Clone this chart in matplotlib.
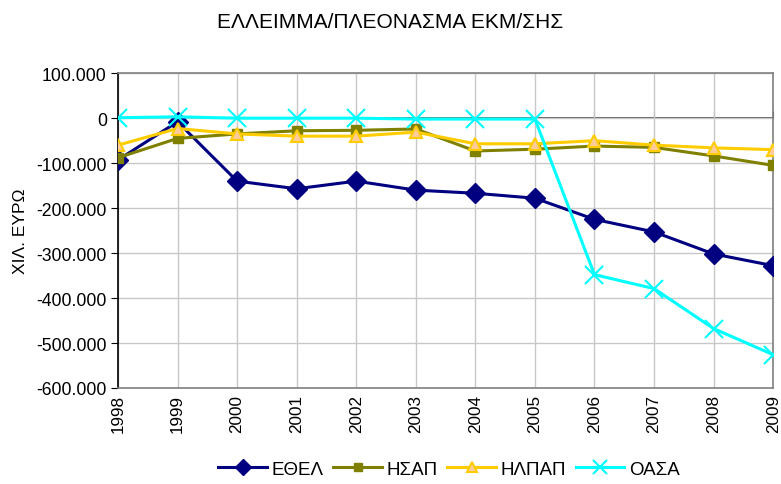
import matplotlib
matplotlib.use("Agg")
import matplotlib.pyplot as plt

years = [1998, 1999, 2000, 2001, 2002, 2003, 2004, 2005, 2006, 2007, 2008, 2009]
ethel = [-93000, -8000, -140000, -157000, -140000, -160000, -167000, -178000, -225000, -253000, -302000, -328000]
hsap = [-88000, -45000, -35000, -28000, -27000, -24000, -73000, -69000, -62000, -65000, -84000, -105000]
hlpap = [-60000, -23000, -35000, -40000, -40000, -31000, -57000, -57000, -50000, -60000, -66000, -70000]
oasa = [1000, 3000, 0, 0, 0, -2000, -2000, -2000, -348000, -379000, -468000, -526000]
series_names = ["ΕΘΕΛ", "ΗΣΑΠ", "ΗΛΠΑΠ", "ΟΑΣΑ"]
title = "ΕΛΛΕΙΜΜΑ/ΠΛΕΟΝΑΣΜΑ ΕΚΜ/ΣΗΣ"
ylabel = "ΧΙΛ. ΕΥΡΩ"
yticks = [100000, 0, -100000, -200000, -300000, -400000, -500000, -600000]
ytick_labels = ["100.000", "0", "-100.000", "-200.000", "-300.000", "-400.000", "-500.000", "-600.000"]

plt.rcParams['font.family'] = ['Liberation Sans', 'DejaVu Sans']

fig = plt.figure(figsize=(7.81, 4.85), dpi=100)
ax = fig.add_axes([0.151, 0.198, 0.839, 0.649])

lw = 2.2
ax.plot(years, ethel, color='#000080', lw=lw, marker='D', ms=10, mfc='#000080', mec='#000080', label=series_names[0], zorder=3)
ax.plot(years, hsap, color='#808000', lw=lw, marker='s', ms=7.5, mfc='#808000', mec='#808000', label=series_names[1], zorder=3)
ax.plot(years, hlpap, color='#FFCC00', lw=lw, marker='^', ms=9, mfc='#FFCC99', mec='#FFCC00', mew=1.5, label=series_names[2], zorder=3)
ax.plot(years, oasa, color='#00FFFF', lw=lw, marker='x', ms=13, mew=1.5, mec='#00FFFF', label=series_names[3], zorder=4)

ax.set_xlim(1998, 2009)
ax.set_ylim(-600000, 100000)
ax.set_yticks(yticks)
ax.set_yticklabels(ytick_labels, fontsize=12.7)
ax.set_xticks(years)
ax.set_xticklabels([str(y) for y in years], rotation=90, fontsize=12.3)
ax.tick_params(axis='x', length=0, pad=4)
ax.tick_params(axis='y', direction='out', length=5, color='black', pad=3)

ax.grid(True, color='#c8c8c8', lw=1.0)
ax.set_axisbelow(True)
for side in ['top', 'right', 'bottom']:
    ax.spines[side].set_color('#808080')
    ax.spines[side].set_linewidth(1.2)
ax.spines['left'].set_color('black')
ax.spines['left'].set_linewidth(1.2)

sec = ax.secondary_xaxis(0, transform=ax.transData)
sec.set_xticks(years)
sec.tick_params(axis='x', direction='in', length=5, color='#404040', labelbottom=False)
sec.spines['bottom'].set_color('#404040')
sec.spines['bottom'].set_linewidth(1.2)

ax.set_ylabel(ylabel, fontsize=12.5, labelpad=6)
fig.text(0.5, 0.953, title, ha='center', va='center', fontsize=15)

fig.legend(loc='center', bbox_to_anchor=(0.575, 0.03), ncol=4, frameon=False,
           fontsize=13.5, handlelength=2.6, columnspacing=0.5, handletextpad=0.25,
           markerscale=0.8)

fig.savefig('out.png', dpi=100)
